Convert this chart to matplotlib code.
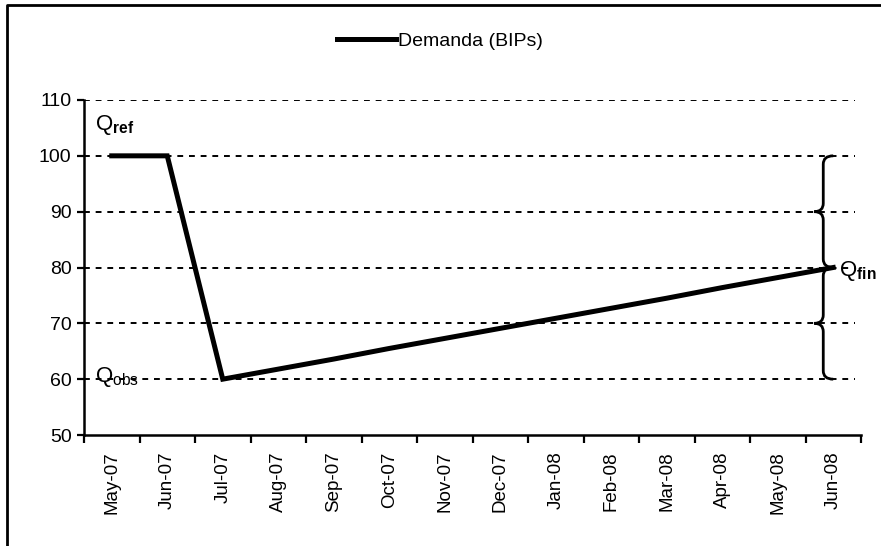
import numpy as np
import matplotlib
matplotlib.use('Agg')
import matplotlib.pyplot as plt
from matplotlib.path import Path
from matplotlib.patches import PathPatch
from matplotlib.lines import Line2D

plt.rcParams['font.family'] = ['Liberation Sans', 'DejaVu Sans']
plt.rcParams['mathtext.fontset'] = 'custom'
plt.rcParams['mathtext.rm'] = 'Liberation Sans'
plt.rcParams['mathtext.it'] = 'Liberation Sans'
plt.rcParams['mathtext.bf'] = 'Liberation Sans:bold'

# datos
meses = ['May-07', 'Jun-07', 'Jul-07', 'Aug-07', 'Sep-07', 'Oct-07', 'Nov-07',
         'Dec-07', 'Jan-08', 'Feb-08', 'Mar-08', 'Apr-08', 'May-08', 'Jun-08']
demanda = [100, 100, 60, 61.8, 63.6, 65.5, 67.3, 69.1, 70.9, 72.7, 74.5, 76.4, 78.2, 80]
y_ticks = [50, 60, 70, 80, 90, 100, 110]
q_ref, q_obs, q_fin = 100, 60, 80

fig = plt.figure(figsize=(8.81, 5.46), dpi=100)
ax = fig.add_axes([84 / 881, 1 - 435 / 546, (861 - 84) / 881, (435 - 100) / 546])

x = np.arange(len(meses))
ax.plot(x, demanda, color='black', lw=3.6, solid_joinstyle='miter', label='Demanda (BIPs)')

ax.set_xlim(-0.5, len(meses) - 0.5)
ax.set_ylim(y_ticks[0], y_ticks[-1])
ax.set_yticks(y_ticks)
ax.set_xticks(x)
ax.set_xticklabels(meses, rotation=90)
ax.set_xticks(np.arange(-0.5, len(meses), 1), minor=True)
ax.tick_params(axis='x', which='major', length=0, pad=12, labelsize=13.5)
ax.tick_params(axis='x', which='minor', length=6, width=1.6, direction='out')
ax.tick_params(axis='y', length=5, width=1.6, labelsize=14, pad=4)

for v in y_ticks[1:]:
    ax.axhline(v, xmax=(855 - 84) / (861 - 84), color='black', lw=1.4,
               ls=(0, (3, 3)), zorder=0)

for s in ['top', 'right']:
    ax.spines[s].set_visible(False)
for s in ['left', 'bottom']:
    ax.spines[s].set_linewidth(1.8)

# etiquetas Q
ax.text(-0.3, 105.5, r'Q$_{\mathbf{ref}}$', fontsize=16, va='center', ha='left')
ax.text(-0.3, 60.3, r'Q$_{\mathrm{obs}}$', fontsize=16, va='center', ha='left')
ax.text(13.1, 79.3, r'Q$_{\mathbf{fin}}$', fontsize=16, va='center', ha='left', clip_on=False)


# llaves
def llave(y_top, y_bot, x_sp=12.82, x_end=13.0, x_tip=12.66):
    y_mid = (y_top + y_bot) / 2
    d = 1.5
    verts = [(x_end, y_top), (x_sp, y_top), (x_sp, y_top - d),
             (x_sp, y_mid + d), (x_sp, y_mid), (x_tip, y_mid),
             (x_sp, y_mid), (x_sp, y_mid - d),
             (x_sp, y_bot + d), (x_sp, y_bot), (x_end, y_bot)]
    codes = [Path.MOVETO, Path.CURVE3, Path.CURVE3,
             Path.LINETO, Path.CURVE3, Path.CURVE3,
             Path.CURVE3, Path.CURVE3,
             Path.LINETO, Path.CURVE3, Path.CURVE3]
    ax.add_patch(PathPatch(Path(verts, codes), fill=False, lw=2,
                           color='black', clip_on=False))


llave(q_ref, q_fin)
llave(q_fin, q_obs)

fig.legend(loc='upper center', bbox_to_anchor=(440 / 881, 1 - 15 / 546),
           frameon=False, fontsize=14, handlelength=3.0, handletextpad=0.1)

# marco
fig.add_artist(Line2D([7 / 881, 7 / 881, 1], [0, 1 - 5 / 546, 1 - 5 / 546],
                      color='black', lw=2, transform=fig.transFigure))

fig.savefig('out.png', dpi=100)
